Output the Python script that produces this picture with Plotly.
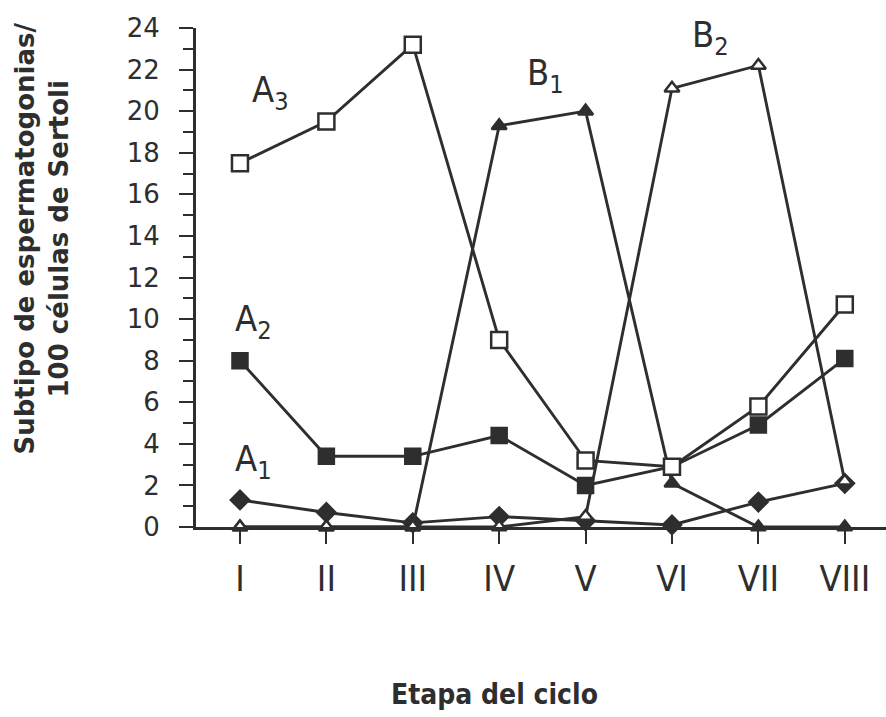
import plotly.graph_objects as go

stages = ["I", "II", "III", "IV", "V", "VI", "VII", "VIII"]
a1 = [1.3, 0.7, 0.2, 0.5, 0.3, 0.1, 1.2, 2.1]
a2 = [8.0, 3.4, 3.4, 4.4, 2.0, 2.9, 4.9, 8.1]
a3 = [17.5, 19.5, 23.2, 9.0, 3.2, 2.9, 5.8, 10.7]
b1 = [0.0, 0.0, 0.0, 19.3, 20.0, 2.1, 0.0, 0.0]
b2 = [0.0, 0.0, 0.0, 0.0, 0.5, 21.1, 22.2, 2.2]
y_ticks = list(range(0, 25, 2))

INK = "#2e2e2e"
NARROW = "DejaVu Sans Condensed, Liberation Sans Narrow, sans-serif"

fig = go.Figure()

def add(vals, symbol, fill, size):
    fig.add_trace(go.Scatter(
        x=stages, y=vals, mode="lines+markers",
        line=dict(color=INK, width=2.9),
        marker=dict(symbol=symbol, size=size, color=fill,
                    line=dict(color=INK, width=2.5)),
        cliponaxis=False, showlegend=False, hoverinfo="skip"))

add(a2, "square", INK, 15)
add(a1, "diamond", INK, 14)
add(b1, "triangle-up", INK, 13)
add(a3, "square", "white", 16)
add(b2, "triangle-up", "white", 13)

labels = [("A", "3", 0.12, 20.9), ("A", "2", -0.08, 9.9), ("A", "1", -0.08, 3.17),
          ("B", "1", 3.30, 21.7), ("B", "2", 5.21, 23.55)]
for main, sub, lx, ly in labels:
    fig.add_annotation(x=lx, y=ly, xref="x", yref="y", text=f"{main}<sub>{sub}</sub>",
                       showarrow=False, xanchor="left", yanchor="middle",
                       font=dict(family=NARROW, size=36, color=INK))

fig.add_annotation(x=-0.2225, y=0.579, xref="paper", yref="paper",
                   text="<b>Subtipo de espermatogonias/<br>100 células de Sertoli</b>",
                   textangle=-90, showarrow=False, xanchor="center", yanchor="middle",
                   font=dict(family="DejaVu Sans", size=26, color=INK))
fig.add_annotation(x=0.432, y=-0.335, xref="paper", yref="paper",
                   text="<b>Etapa del ciclo</b>", showarrow=False,
                   xanchor="center", yanchor="middle",
                   font=dict(family=NARROW, size=28, color=INK))

fig.update_xaxes(type="category", categoryorder="array", categoryarray=stages,
                 range=[-0.509, 7.477], showgrid=False, zeroline=False,
                 showline=True, linecolor=INK, linewidth=2.8,
                 ticks="outside", ticklen=14, tickwidth=2.4, tickcolor=INK,
                 ticklabelstandoff=4,
                 tickfont=dict(family=NARROW, size=36, color=INK))
fig.update_yaxes(range=[0, 24], tickvals=y_ticks, showgrid=False, zeroline=False,
                 showline=True, linecolor=INK, linewidth=2.8,
                 ticks="outside", ticklen=14, tickwidth=2.4, tickcolor=INK,
                 minor=dict(dtick=1, ticks="outside", ticklen=10, tickwidth=2.2, tickcolor=INK),
                 ticklabelstandoff=14,
                 tickfont=dict(family="DejaVu Sans", size=26, color=INK))

fig.update_layout(width=886, height=717, margin=dict(l=196, r=0, t=28, b=190),
                  paper_bgcolor="white", plot_bgcolor="white")

fig.write_html("out.html")
